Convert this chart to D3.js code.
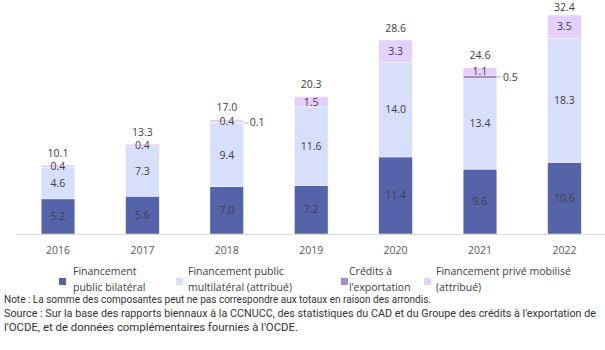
<!DOCTYPE html>
<html>
<head>
<meta charset="utf-8">
<script src="https://cdn.jsdelivr.net/npm/d3@7"></script>
<style>
  body { margin: 0; background: #fff; }
  svg { display: block; }
</style>
</head>
<body>
<svg id="chart" width="605" height="350"></svg>
<script>
const years = ["2016", "2017", "2018", "2019", "2020", "2021", "2022"];
const bilateral = [5.2, 5.6, 7.0, 7.2, 11.4, 9.6, 10.6];
const multilateral = [4.6, 7.3, 9.4, 11.6, 14.0, 13.4, 18.3];
const exportCredits = [0, 0, 0.1, 0, 0, 0.5, 0];
const privateMob = [0.4, 0.4, 0.4, 1.5, 3.3, 1.1, 3.5];
const totals = [10.1, 13.3, 17.0, 20.3, 28.6, 24.6, 32.4];

const seriesNames = [
    ["Financement", "public bilatéral"],
    ["Financement public", "multilatéral (attribué)"],
    ["Crédits à", "l’exportation"],
    ["Financement privé mobilisé", "(attribué)"]
];
const noteLines = [
    "Note : La somme des composantes peut ne pas correspondre aux totaux en raison des arrondis.",
    "Source : Sur la base des rapports biennaux à la CCNUCC, des statistiques du CAD et du Groupe des crédits à l'exportation de",
    "l'OCDE, et de données complémentaires fournies à l'OCDE."
];

const colors = ["#5563a9", "#d7dffb", "#a78bcc", "#e4d0fa"];
const svg = d3.select("#chart");

const keys = ["bil", "mul", "exp", "pri"];
const table = years.map((y, i) => ({
    year: y, bil: bilateral[i], mul: multilateral[i],
    exp: exportCredits[i], pri: privateMob[i], total: totals[i]
}));
const stacked = d3.stack().keys(keys)(table);

const x = d3.scaleBand()
    .domain(years)
    .range([15.8, 606.6])
    .paddingInner(0.6)
    .paddingOuter(0.3);
const y = d3.scaleLinear().domain([0, 35]).range([234, -2.6]);

// barres
stacked.forEach((layer, k) => {
    svg.append("g")
        .selectAll("rect")
        .data(layer)
        .join("rect")
        .attr("x", d => x(d.data.year))
        .attr("width", x.bandwidth())
        .attr("y", d => y(d[1]))
        .attr("height", d => y(d[0]) - y(d[1]))
        .attr("fill", colors[k])
        .attr("stroke", "#ffffff")
        .attr("stroke-width", 0.5)
        .attr("display", d => d[1] - d[0] > 0 ? null : "none");
});

// axe horizontal
const axis = svg.append("g")
    .attr("transform", "translate(0,234)")
    .call(d3.axisBottom(x).tickSize(0).tickPadding(13));
axis.select(".domain").attr("d", "M16,0.5H605").attr("stroke", "#d9d9d9");
axis.selectAll("text")
    .attr("font-family", "Open Sans")
    .attr("font-size", 10.5)
    .attr("fill", "#595959");

// étiquettes des segments
const lbl = svg.append("g")
    .attr("font-family", "Open Sans")
    .attr("font-size", 10.5)
    .attr("fill", "#404040")
    .attr("text-anchor", "middle");

stacked.forEach((layer, k) => {
    layer.forEach(d => {
        const v = d[1] - d[0];
        if (v <= 0.001) return;
        const cy = (y(d[0]) + y(d[1])) / 2;
        if (keys[k] === "exp") {
            const xr = x(d.data.year) + x.bandwidth();
            svg.append("line")
                .attr("x1", xr).attr("x2", xr + 5)
                .attr("y1", cy).attr("y2", cy)
                .attr("stroke", "#a6a6a6").attr("stroke-width", 0.8);
            lbl.append("text")
                .attr("x", xr + 6).attr("y", cy)
                .attr("dy", "0.35em")
                .attr("text-anchor", "start")
                .text(d3.format(".1f")(v));
        } else {
            lbl.append("text")
                .attr("x", x(d.data.year) + x.bandwidth() / 2)
                .attr("y", cy)
                .attr("dy", "0.35em")
                .text(d3.format(".1f")(v));
        }
    });
});

// totaux
const topLayer = stacked[stacked.length - 1];
lbl.selectAll(".total")
    .data(topLayer)
    .join("text")
    .attr("x", d => x(d.data.year) + x.bandwidth() / 2)
    .attr("y", d => Math.max(y(d[1]) - 12, 7))
    .attr("dy", "0.35em")
    .text(d => d3.format(".1f")(d.data.total));

// légende
const legendX = [[59, 73], [176, 188], [341, 349], [424, 436]];
const leg = svg.append("g")
    .attr("font-family", "Open Sans")
    .attr("font-size", 10.5)
    .attr("fill", "#404040");
seriesNames.forEach((name, i) => {
    leg.append("rect")
        .attr("x", legendX[i][0]).attr("y", 278)
        .attr("width", 7).attr("height", 7)
        .attr("fill", colors[i]);
    name.forEach((line, j) => {
        leg.append("text")
            .attr("x", legendX[i][1])
            .attr("y", 275 + j * 16)
            .text(line);
    });
});

// note et source
const noteWidths = [427, 592, 294];
const noteY = [303, 317, 331];
svg.append("g")
    .attr("font-family", "Roboto")
    .attr("font-size", 10.5)
    .attr("fill", "#333333")
    .selectAll("text")
    .data(noteLines)
    .join("text")
    .attr("x", 4)
    .attr("y", (d, i) => noteY[i])
    .attr("textLength", (d, i) => noteWidths[i])
    .attr("lengthAdjust", "spacingAndGlyphs")
    .text(d => d);
</script>
</body>
</html>
